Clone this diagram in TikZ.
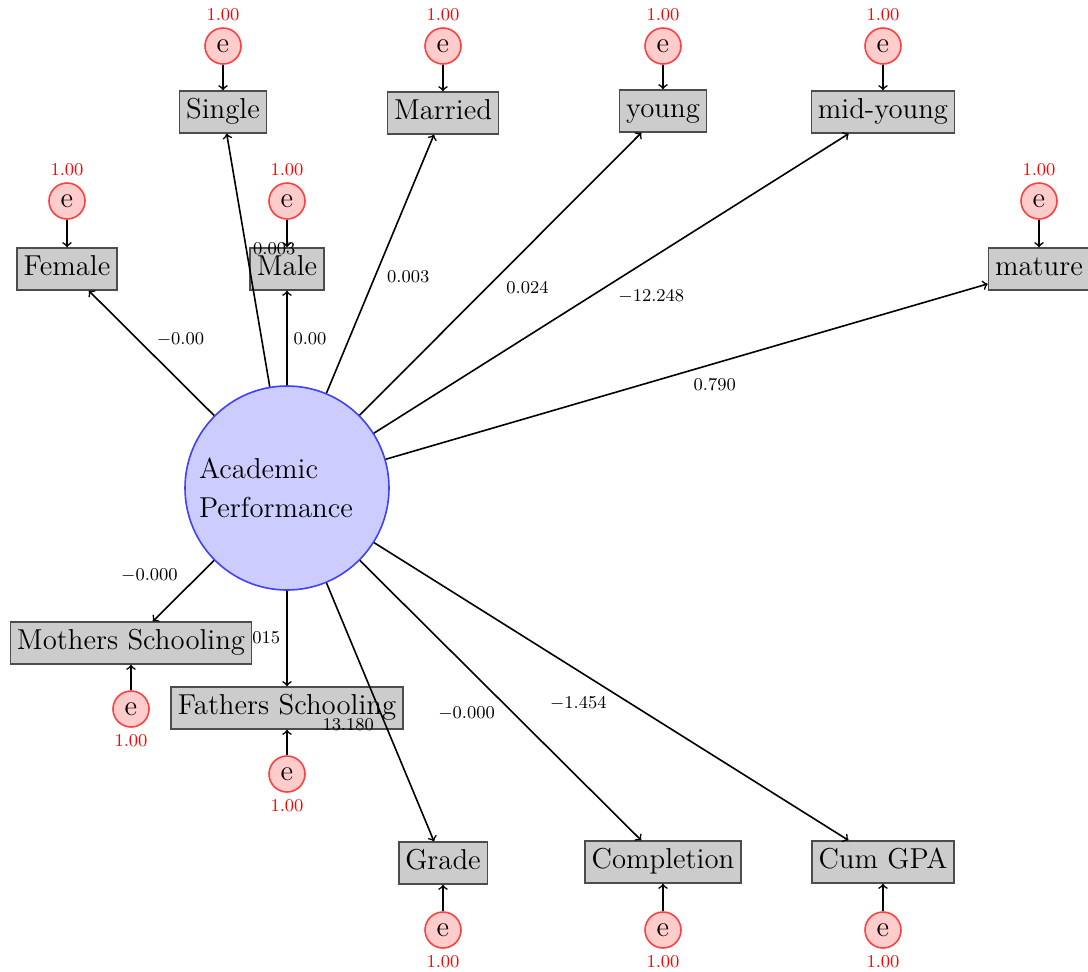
\documentclass[tikz,border=0pt]{standalone}
\usetikzlibrary{backgrounds}
\begin{document}
\begin{tikzpicture}[x=0.5pt,y=-0.5pt,
  obs/.style={draw=black!70, fill=black!20, thick, inner xsep=3.3pt, inner ysep=3.7pt,
    text height=10pt, text depth=3.5pt, font=\fontsize{14.4}{17}\selectfont},
  err/.style={circle, draw=red!75, fill=red!20, thick, minimum size=18pt, inner sep=0pt,
    font=\fontsize{14.4}{17}\selectfont},
  errup/.style={err, label={[red, font=\fontsize{9}{11}\selectfont, inner sep=1pt, label distance=2pt]above:1.00}},
  errdn/.style={err, label={[red, font=\fontsize{9}{11}\selectfont, inner sep=1pt, label distance=2pt]below:1.00}},
  lat/.style={circle, draw=blue!75, fill=blue!20, thick, minimum size=102pt, inner sep=0pt,
    text width=88pt, align=left, font=\fontsize{14.4}{19.5}\selectfont},
  arr/.style={->, thick},
  lab/.style={font=\fontsize{9}{11}\selectfont, inner sep=1pt}]
\useasboundingbox (0,0) rectangle (1088,971);

% latent
\node[lat] (ap) at (287,488) {Academic\\Performance};

% observed
\node[obs] (fem) at (67,269) {Female};
\node[obs] (sin) at (223,112) {Single};
\node[obs] (mal) at (287,269) {Male};
\node[obs] (mar) at (443,113) {Married};
\node[obs] (yng) at (663,111) {young};
\node[obs] (mid) at (883,112) {mid-young};
\node[obs] (mat) at (1039,269) {mature};
\node[obs] (mot) at (131,643) {Mothers Schooling};
\node[obs] (fat) at (287,708) {Fathers Schooling};
\node[obs] (gra) at (443,863) {Grade};
\node[obs] (com) at (663,862) {Completion};
\node[obs] (gpa) at (883,862) {Cum GPA};

% errors
\node[errup] (efem) at (67,201) {e};
\node[errup] (esin) at (223,46) {e};
\node[errup] (emal) at (287,201) {e};
\node[errup] (emar) at (443,46) {e};
\node[errup] (eyng) at (663,46) {e};
\node[errup] (emid) at (883,46) {e};
\node[errup] (emat) at (1039,201) {e};
\node[errdn] (emot) at (131,709) {e};
\node[errdn] (efat) at (287,774) {e};
\node[errdn] (egra) at (443,930) {e};
\node[errdn] (ecom) at (663,930) {e};
\node[errdn] (egpa) at (883,930) {e};

\foreach \v in {fem,sin,mal,mar,yng,mid,mat,mot,fat,gra,com,gpa}
  \draw[arr] (e\v) -- (\v);

% loadings
\begin{pgfonlayer}{background}
\draw[arr] (ap) -- node[lab, midway, xshift=-14pt, yshift=0.5pt] {0.015} (fat);
\end{pgfonlayer}
\draw[arr] (ap) -- node[lab, midway, xshift=14.5pt, yshift=7pt] {$-0.00$} (fem);
\draw[arr] (ap) -- node[lab, midway, xshift=11.5pt, yshift=-0.5pt] {0.00} (mal);
\draw[arr] (ap) -- node[lab, midway, xshift=13pt, yshift=5.5pt] {0.003} (sin);
\draw[arr] (ap) -- node[lab, midway, xshift=14pt, yshift=-6.5pt] {0.003} (mar);
\draw[arr] (ap) -- node[lab, midway, xshift=13.5pt, yshift=-7pt] {0.024} (yng);
\draw[arr] (ap) -- node[lab, midway, xshift=20pt, yshift=-6.5pt] {$-12.248$} (mid);
\draw[arr] (ap) -- node[lab, midway, xshift=14pt, yshift=-6.5pt] {0.790} (mat);
\draw[arr] (ap) -- node[lab, midway, xshift=-17pt, yshift=7.5pt] {$-0.000$} (mot);
\draw[arr] (ap) -- node[lab, midway, xshift=-16pt, yshift=-6.5pt] {13.180} (gra);
\draw[arr] (ap) -- node[lab, midway, xshift=-17pt, yshift=-6.5pt] {$-0.000$} (com);
\draw[arr] (ap) -- node[lab, midway, xshift=-16.5pt, yshift=-6pt] {$-1.454$} (gpa);
\end{tikzpicture}
\end{document}
